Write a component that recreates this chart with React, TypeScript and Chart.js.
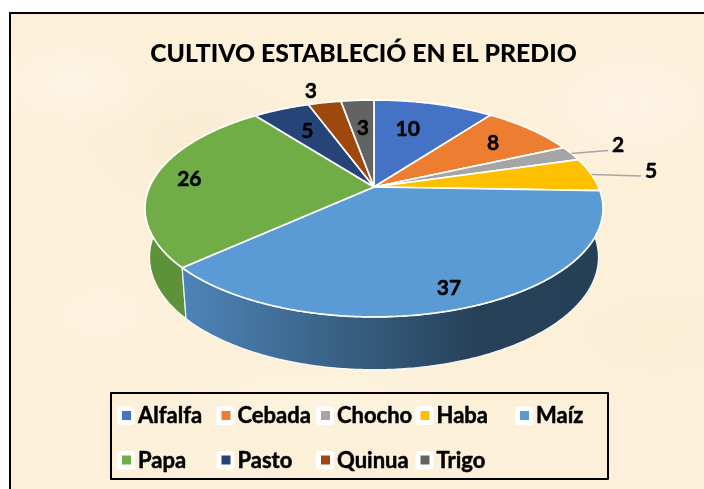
import React, { useEffect, useRef } from "react";
import { Chart, registerables } from "chart.js";

Chart.register(...registerables);

const categories = ["Alfalfa", "Cebada", "Chocho", "Haba", "Maíz", "Papa", "Pasto", "Quinua", "Trigo"];
const shares = [10.2, 8, 2.2, 5, 37.49, 26.1, 4.8, 2.8, 2.8];
const sliceColors = ["#4472c4", "#ed7d31", "#a5a5a5", "#ffc000", "#5b9bd5", "#70ad47", "#264478", "#9e480e", "#636363"];
const labelRadius = [0.66, 0.74, 1.257, 1.282, 0.85, 0.838, 0.687, 1.19, 0.64];
const labelShiftX = [-8, 0, 0, 0, -3, 0, 0, -6, 0];
const labelShiftY = [0, 0, 0, 0, 2, 0, 0, 2, 0];
const leaderSlices = [2, 3];
const titleText = "CULTIVO ESTABLECIÓ EN EL PREDIO";

const FONT = "Lato, Carlito, sans-serif";
const TOP = { cx: 374, cy: 187, rx: 224.5, ry: 104.2 };
const BOTTOM = { cx: 374, cy: 235, rx: 220, ry: 108 };
const TILT = 0.198;

type Plane = typeof TOP;

function project(p: Plane, theta: number, rho = 1) {
  const u = Math.sin(theta) * rho;
  const d = -Math.cos(theta) * rho;
  const w = 1 - TILT * d;
  return { x: p.cx + (p.rx * u) / w, y: p.cy + (p.ry * d) / w };
}

function arcPoints(p: Plane, a: number, b: number) {
  const n = Math.max(2, Math.ceil(Math.abs(b - a) / 0.01));
  const pts = [];
  for (let i = 0; i <= n; i++) pts.push(project(p, a + ((b - a) * i) / n));
  return pts;
}

function heavyText(ctx: CanvasRenderingContext2D, text: string, x: number, y: number) {
  ctx.fillStyle = "#000000";
  ctx.strokeStyle = "#000000";
  ctx.lineWidth = 0.5;
  ctx.lineJoin = "round";
  ctx.fillText(text, x, y);
  ctx.strokeText(text, x, y);
}

const pie3d = {
  id: "pie3d",
  beforeDatasetsDraw(chart: any) {
    const ctx = chart.ctx as CanvasRenderingContext2D;
    const arcs = chart.getDatasetMeta(0).data as any[];
    const range = arcs.map((arc) => [arc.startAngle + Math.PI / 2, arc.endAngle + Math.PI / 2]);

    // side wall
    const wallOrder = [5, 4];
    wallOrder.forEach((i) => {
      const [a, b] = range[i];
      const t = arcPoints(TOP, a, b);
      const lo = arcPoints(BOTTOM, a, b);
      ctx.beginPath();
      t.forEach((q, k) => (k ? ctx.lineTo(q.x, q.y) : ctx.moveTo(q.x, q.y)));
      lo.reverse().forEach((q) => ctx.lineTo(q.x, q.y));
      ctx.closePath();
      if (i === 4) {
        const g = ctx.createLinearGradient(182, 0, 603, 0);
        g.addColorStop(0, "#4d84b8");
        g.addColorStop(0.35, "#3a6387");
        g.addColorStop(0.7, "#274159");
        g.addColorStop(1, "#254056");
        ctx.fillStyle = g;
      } else {
        ctx.fillStyle = "#5d923a";
      }
      ctx.fill();
      ctx.strokeStyle = "rgba(255,255,255,0.9)";
      ctx.lineWidth = 1.2;
      ctx.stroke();
    });

    // top face
    arcs.forEach((_, i) => {
      const [a, b] = range[i];
      ctx.beginPath();
      ctx.moveTo(TOP.cx, TOP.cy);
      arcPoints(TOP, a, b).forEach((q) => ctx.lineTo(q.x, q.y));
      ctx.closePath();
      ctx.fillStyle = sliceColors[i];
      ctx.fill();
      ctx.strokeStyle = "#ffffff";
      ctx.lineWidth = 1.7;
      ctx.lineJoin = "round";
      ctx.stroke();
    });
    return false;
  },
  afterDraw(chart: any) {
    const ctx = chart.ctx as CanvasRenderingContext2D;
    const arcs = chart.getDatasetMeta(0).data as any[];
    const values = chart.data.datasets[0].data as number[];
    ctx.save();

    // data labels and leader lines
    arcs.forEach((arc, i) => {
      const mid = (arc.startAngle + arc.endAngle) / 2 + Math.PI / 2;
      const pos = project(TOP, mid, labelRadius[i]);
      const x = pos.x + labelShiftX[i];
      const y = pos.y + labelShiftY[i];
      if (leaderSlices.includes(i)) {
        const from = project(TOP, mid, 1);
        ctx.beginPath();
        ctx.moveTo(from.x, from.y);
        ctx.lineTo(x - 10, y + 5);
        ctx.strokeStyle = "#a6a6a6";
        ctx.lineWidth = 1.5;
        ctx.stroke();
      }
      ctx.font = `bold 21px ${FONT}`;
      ctx.textAlign = "center";
      ctx.textBaseline = "middle";
      heavyText(ctx, String(Math.round(values[i])), x, y);
    });

    // legend block
    ctx.strokeStyle = "#000000";
    ctx.lineWidth = 2;
    ctx.strokeRect(111, 393, 497, 86);
    chart.data.labels.forEach((name: string, i: number) => {
      const col = i % 5;
      const row = Math.floor(i / 5);
      const x = 117 + col * 99.5;
      const cy = 416 + row * 44.5;
      ctx.fillStyle = "#ffffff";
      ctx.beginPath();
      ctx.roundRect(x, cy - 9.5, 18, 18.5, 3);
      ctx.fill();
      ctx.fillStyle = sliceColors[i];
      ctx.fillRect(x + 5, cy - 5, 9, 9);
      ctx.font = `bold 22px ${FONT}`;
      ctx.textAlign = "left";
      ctx.textBaseline = "middle";
      heavyText(ctx, name, x + 21, cy);
    });
    ctx.restore();
  },
};

const paper = [
  "radial-gradient(ellipse 90px 50px at 60px 70px, rgba(255,246,235,0.7), transparent)",
  "radial-gradient(ellipse 120px 70px at 190px 130px, rgba(248,234,208,0.6), transparent)",
  "radial-gradient(ellipse 110px 70px at 620px 90px, rgba(255,245,235,0.7), transparent)",
  "radial-gradient(ellipse 100px 60px at 90px 300px, rgba(255,244,228,0.6), transparent)",
  "radial-gradient(ellipse 120px 60px at 650px 320px, rgba(251,239,214,0.8), transparent)",
  "radial-gradient(ellipse 160px 50px at 300px 385px, rgba(255,245,226,0.6), transparent)",
  "linear-gradient(#fcf0d9, #fcf0da)",
].join(",");

export default function App() {
  const ref = useRef<HTMLCanvasElement>(null);
  useEffect(() => {
    document.body.style.margin = "0";
    document.body.style.overflow = "hidden";
    const chart = new Chart(ref.current as HTMLCanvasElement, {
      type: "pie",
      data: {
        labels: categories,
        datasets: [{ data: shares, backgroundColor: sliceColors, borderColor: "#ffffff" }],
      },
      options: {
        responsive: false,
        animation: false,
        layout: { padding: { left: 23, top: 29, bottom: 120, right: 0 } },
        plugins: {
          legend: { display: false },
          tooltip: { enabled: false },
          title: {
            display: true,
            text: titleText,
            color: "#000000",
            font: { family: FONT, size: 24.75, weight: "900" },
            padding: { top: 10, bottom: 10 },
          },
        },
      },
      plugins: [pie3d],
    } as any);
    return () => chart.destroy();
  }, []);
  return (
    <div style={{ position: "absolute", left: 0, top: 0, width: 704, height: 489, background: "#ffffff", overflow: "hidden" }}>
      <div
        style={{
          position: "absolute",
          left: 9,
          top: 12,
          width: 720,
          height: 500,
          border: "2px solid #000000",
          background: paper,
        }}
      />
      <canvas ref={ref} width={704} height={489} style={{ position: "absolute", left: 0, top: 0 }} />
    </div>
  );
}
